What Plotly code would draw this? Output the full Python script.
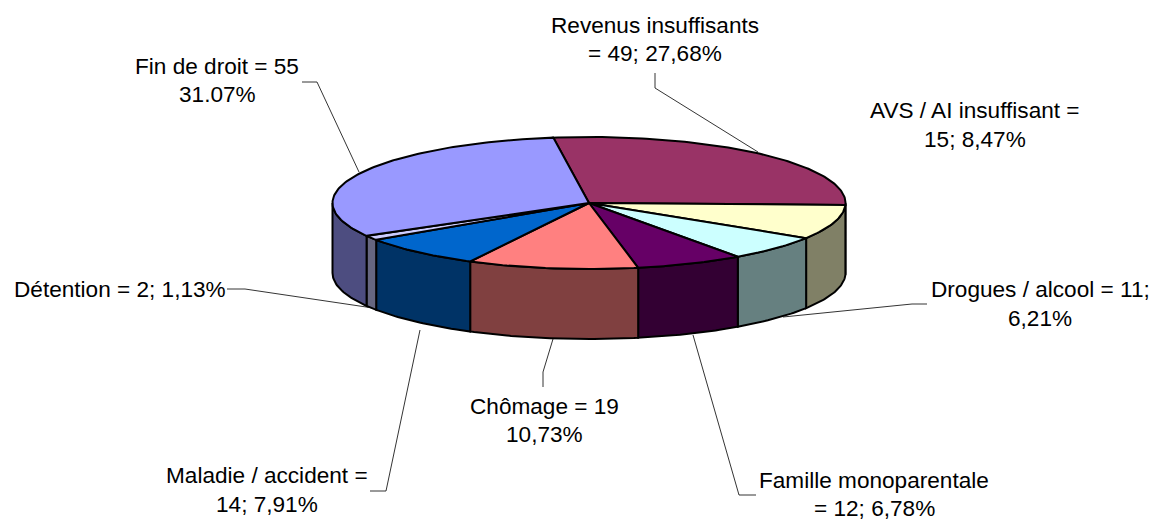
import math
import plotly.graph_objects as go

categories = ["Revenus insuffisants", "AVS / AI insuffisant", "Drogues / alcool", "Famille monoparentale",
              "Chômage", "Maladie / accident", "Détention", "Fin de droit"]
counts = [49, 15, 11, 12, 19, 14, 2, 55]
top_colors = ["#993366", "#ffffcc", "#ccffff", "#660066", "#ff8080", "#0066cc", "#ccccff", "#9999ff"]
wall_colors = ["#4d1a33", "#808066", "#668080", "#330033", "#804040", "#003366", "#666680", "#4d4d80"]

label_lines = [
    ("Revenus insuffisants", 655, 25), ("= 49; 27,68%", 655, 53),
    ("AVS / AI insuffisant =", 975, 110), ("15; 8,47%", 975, 139),
    ("Fin de droit = 55", 217, 66), ("31.07%", 217, 94),
    ("Détention = 2; 1,13%", 120, 289),
    ("Drogues / alcool = 11;", 1040, 289), ("6,21%", 1040, 318),
    ("Chômage = 19", 544, 406), ("10,73%", 544, 434),
    ("Maladie / accident =", 267, 475), ("14; 7,91%", 267, 504),
    ("Famille monoparentale", 874, 480), ("= 12; 6,78%", 874, 508),
]

leaders = [
    [(302, 82), (317, 82), (359, 172)],
    [(655, 73), (655, 88), (758, 152)],
    [(227, 289), (245, 289), (373, 308)],
    [(927, 304), (912, 304), (783, 317)],
    [(543, 387), (543, 372), (553, 339)],
    [(370, 491), (386, 491), (420, 330)],
    [(756, 495), (739, 495), (693, 335)],
]

CX, CY, RX, RY, DEPTH = 589, 203, 256.5, 66, 70
START = -8.0


def pt(deg, dy=0):
    r = math.radians(deg)
    return CX + RX * math.sin(r), CY - RY * math.cos(r) + dy


def arc(a, b, dy=0):
    n = max(2, int(abs(b - a)) + 2)
    return [pt(a + (b - a) * i / (n - 1), dy) for i in range(n)]


total = sum(counts)
spans = []
acc = START
for c in counts:
    spans.append((acc, acc + 360 * c / total))
    acc += 360 * c / total

fig = go.Figure()


def poly(points, color):
    fig.add_trace(go.Scatter(
        x=[p[0] for p in points] + [points[0][0]],
        y=[p[1] for p in points] + [points[0][1]],
        mode="lines", fill="toself", fillcolor=color,
        line=dict(color="black", width=2),
        hoverinfo="skip", showlegend=False))


for (a, b), col in zip(spans, wall_colors):
    lo, hi = max(a, 90), min(b, 270)
    if hi > lo:
        poly(arc(lo, hi) + arc(hi, lo, DEPTH), col)

for (a, b), col in zip(spans, top_colors):
    poly([(CX, CY)] + arc(a, b), col)

shapes = [dict(type="path", layer="below",
               path="M" + " L".join(f"{x},{y}" for x, y in pts),
               line=dict(color="black", width=0.8)) for pts in leaders]

annotations = [dict(x=x, y=y, text=t, showarrow=False, xanchor="center", yanchor="middle",
                    font=dict(family="Liberation Sans, Arial, sans-serif", size=22.6, color="black"))
               for t, x, y in label_lines]

fig.update_layout(
    width=1154, height=520, margin=dict(l=0, r=0, t=0, b=0),
    paper_bgcolor="white", plot_bgcolor="white", showlegend=False,
    xaxis=dict(range=[0, 1154], visible=False, fixedrange=True),
    yaxis=dict(range=[520, 0], visible=False, fixedrange=True),
    shapes=shapes, annotations=annotations,
)
fig.write_html("out.html", config={"displayModeBar": False},
               post_script="document.body.style.margin='0';document.documentElement.style.overflow='hidden';")
